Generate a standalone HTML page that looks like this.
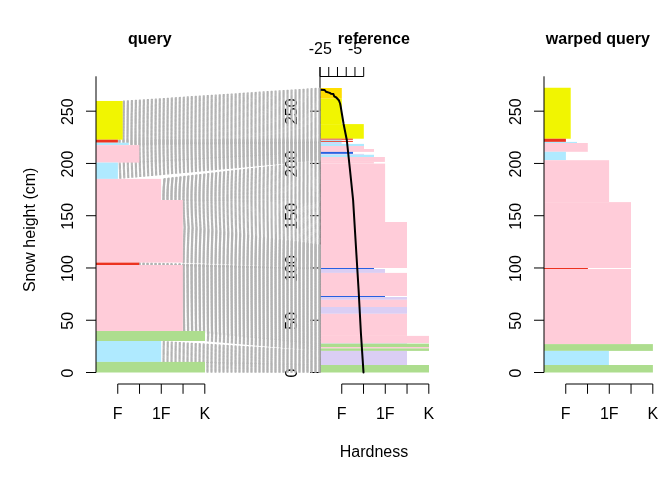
<!DOCTYPE html><html><head><meta charset="utf-8"><style>html,body{margin:0;padding:0;background:#fff;}svg{display:block}text{font-family:"Liberation Sans",Arial,sans-serif;font-size:16px;fill:#000}</style></head><body>
<svg width="672" height="480" viewBox="0 0 672 480">
<rect width="672" height="480" fill="#fff"/>
<rect x="320.0" y="88.00" width="21.80" height="10.70" fill="#ffde00"/><rect x="320.0" y="98.70" width="21.80" height="25.40" fill="#f1f501"/><rect x="320.0" y="124.10" width="43.80" height="14.60" fill="#f1f501"/><rect x="320.0" y="138.70" width="32.90" height="1.05" fill="#ec3320"/><rect x="320.0" y="139.75" width="21.60" height="1.15" fill="#afeaff"/><rect x="320.0" y="140.90" width="32.90" height="1.00" fill="#ec3320"/><rect x="320.0" y="141.90" width="21.60" height="1.10" fill="#afeaff"/><rect x="320.0" y="143.00" width="21.60" height="0.90" fill="#dacef4"/><rect x="320.0" y="143.90" width="44.00" height="2.10" fill="#afeaff"/><rect x="320.0" y="146.00" width="44.00" height="3.00" fill="#ffccd9"/><rect x="320.0" y="149.00" width="54.00" height="2.90" fill="#ffccd9"/><rect x="320.0" y="151.90" width="33.00" height="2.00" fill="#2860e0"/><rect x="320.0" y="153.90" width="44.00" height="0.85" fill="#dacef4"/><rect x="320.0" y="154.75" width="54.00" height="2.25" fill="#afeaff"/><rect x="320.0" y="157.00" width="64.90" height="4.90" fill="#ffccd9"/><rect x="320.0" y="161.90" width="53.90" height="1.70" fill="#ffccd9"/><rect x="320.0" y="163.60" width="65.10" height="58.40" fill="#ffccd9"/><rect x="320.0" y="222.00" width="87.00" height="46.00" fill="#ffccd9"/><rect x="320.0" y="268.00" width="54.00" height="1.00" fill="#2860e0"/><rect x="320.0" y="269.00" width="65.00" height="3.90" fill="#dacef4"/><rect x="320.0" y="272.90" width="87.00" height="23.10" fill="#ffccd9"/><rect x="320.0" y="296.00" width="65.00" height="1.00" fill="#2860e0"/><rect x="320.0" y="297.00" width="87.00" height="2.80" fill="#dacef4"/><rect x="320.0" y="299.80" width="87.00" height="7.20" fill="#ffccd9"/><rect x="320.0" y="307.00" width="87.00" height="6.80" fill="#dacef4"/><rect x="320.0" y="313.80" width="87.00" height="22.10" fill="#ffccd9"/><rect x="320.0" y="335.90" width="109.00" height="7.10" fill="#ffccd9"/><rect x="320.0" y="343.00" width="87.00" height="0.60" fill="#dacef4"/><rect x="320.0" y="343.60" width="109.00" height="3.40" fill="#addd8e"/><rect x="320.0" y="347.00" width="109.00" height="1.40" fill="#ffccd9"/><rect x="320.0" y="348.40" width="109.00" height="2.50" fill="#addd8e"/><rect x="320.0" y="350.90" width="87.00" height="14.10" fill="#dacef4"/><rect x="320.0" y="365.00" width="109.00" height="7.50" fill="#addd8e"/>
<line x1="320.0" y1="67.0" x2="320.0" y2="372.5" stroke="#000" stroke-width="1"/><line x1="310.0" y1="372.50" x2="320.0" y2="372.50" stroke="#000" stroke-width="1"/><text transform="translate(297.30,373.10) rotate(-90)" text-anchor="middle">0</text><line x1="310.0" y1="320.24" x2="320.0" y2="320.24" stroke="#000" stroke-width="1"/><text transform="translate(297.30,320.84) rotate(-90)" text-anchor="middle">50</text><line x1="310.0" y1="267.97" x2="320.0" y2="267.97" stroke="#000" stroke-width="1"/><text transform="translate(297.30,268.57) rotate(-90)" text-anchor="middle">100</text><line x1="310.0" y1="215.71" x2="320.0" y2="215.71" stroke="#000" stroke-width="1"/><text transform="translate(297.30,216.31) rotate(-90)" text-anchor="middle">150</text><line x1="310.0" y1="163.44" x2="320.0" y2="163.44" stroke="#000" stroke-width="1"/><text transform="translate(297.30,164.04) rotate(-90)" text-anchor="middle">200</text><line x1="310.0" y1="111.18" x2="320.0" y2="111.18" stroke="#000" stroke-width="1"/><text transform="translate(297.30,111.78) rotate(-90)" text-anchor="middle">250</text>
<line x1="320" y1="76.5" x2="363.7" y2="76.5" stroke="#000" stroke-width="1"/>
<line x1="320.00" y1="76.5" x2="320.00" y2="67" stroke="#000" stroke-width="1"/>
<line x1="328.74" y1="76.5" x2="328.74" y2="67" stroke="#000" stroke-width="1"/>
<line x1="337.48" y1="76.5" x2="337.48" y2="67" stroke="#000" stroke-width="1"/>
<line x1="346.22" y1="76.5" x2="346.22" y2="67" stroke="#000" stroke-width="1"/>
<line x1="354.96" y1="76.5" x2="354.96" y2="67" stroke="#000" stroke-width="1"/>
<line x1="363.70" y1="76.5" x2="363.70" y2="67" stroke="#000" stroke-width="1"/>
<text x="320.3" y="53.7" text-anchor="middle">-25</text>
<text x="355" y="53.7" text-anchor="middle">-5</text>
<polyline points="320.30,89.80 324.70,90.00 326.10,91.80 329.70,92.90 330.90,93.70 333.40,94.10 334.25,96.40 336.30,97.50 338.80,100.20 340.10,103.50 340.60,106.00 343.60,124.00 346.80,140.00 350.00,170.00 353.10,200.00 357.25,268.00 358.60,290.00 360.90,333.00 363.50,372.40" fill="none" stroke="#000" stroke-width="2" stroke-linejoin="round" stroke-linecap="round"/>
<g stroke="#b3b3b3" stroke-width="1.33" stroke-dasharray="1 3" stroke-linecap="round"><line x1="320" y1="88.24" x2="122.70" y2="101.32"/><line x1="320" y1="89.22" x2="122.70" y2="102.07"/><line x1="320" y1="90.20" x2="122.70" y2="102.81"/><line x1="320" y1="91.18" x2="122.70" y2="103.56"/><line x1="320" y1="92.16" x2="122.70" y2="104.30"/><line x1="320" y1="93.14" x2="122.70" y2="105.05"/><line x1="320" y1="94.12" x2="122.70" y2="105.79"/><line x1="320" y1="95.11" x2="122.70" y2="106.54"/><line x1="320" y1="96.09" x2="122.70" y2="107.28"/><line x1="320" y1="97.07" x2="122.70" y2="108.03"/><line x1="320" y1="98.05" x2="122.70" y2="108.77"/><line x1="320" y1="99.03" x2="122.70" y2="109.52"/><line x1="320" y1="100.01" x2="122.70" y2="110.26"/><line x1="320" y1="100.99" x2="122.70" y2="111.01"/><line x1="320" y1="101.97" x2="122.70" y2="111.76"/><line x1="320" y1="102.95" x2="122.70" y2="112.50"/><line x1="320" y1="103.93" x2="122.70" y2="113.25"/><line x1="320" y1="104.91" x2="122.70" y2="113.99"/><line x1="320" y1="105.89" x2="122.70" y2="114.74"/><line x1="320" y1="106.88" x2="122.70" y2="115.48"/><line x1="320" y1="107.86" x2="122.70" y2="116.23"/><line x1="320" y1="108.84" x2="122.70" y2="116.97"/><line x1="320" y1="109.82" x2="122.70" y2="117.72"/><line x1="320" y1="110.80" x2="122.70" y2="118.46"/><line x1="320" y1="111.78" x2="122.70" y2="119.21"/><line x1="320" y1="112.76" x2="122.70" y2="119.95"/><line x1="320" y1="113.74" x2="122.70" y2="120.70"/><line x1="320" y1="114.72" x2="122.70" y2="121.44"/><line x1="320" y1="115.70" x2="122.70" y2="122.19"/><line x1="320" y1="116.68" x2="122.70" y2="122.93"/><line x1="320" y1="117.66" x2="122.70" y2="123.68"/><line x1="320" y1="118.64" x2="122.70" y2="124.42"/><line x1="320" y1="119.62" x2="122.70" y2="125.17"/><line x1="320" y1="120.61" x2="122.70" y2="125.91"/><line x1="320" y1="121.59" x2="122.70" y2="126.66"/><line x1="320" y1="122.57" x2="122.70" y2="127.40"/><line x1="320" y1="123.55" x2="122.70" y2="128.15"/><line x1="320" y1="124.53" x2="122.70" y2="128.89"/><line x1="320" y1="125.51" x2="122.70" y2="129.64"/><line x1="320" y1="126.49" x2="122.70" y2="130.39"/><line x1="320" y1="127.47" x2="122.70" y2="131.13"/><line x1="320" y1="128.45" x2="122.70" y2="131.88"/><line x1="320" y1="129.43" x2="122.70" y2="132.62"/><line x1="320" y1="130.41" x2="122.70" y2="133.37"/><line x1="320" y1="131.39" x2="122.70" y2="134.11"/><line x1="320" y1="132.38" x2="122.70" y2="134.86"/><line x1="320" y1="133.36" x2="122.70" y2="135.60"/><line x1="320" y1="134.34" x2="122.70" y2="136.35"/><line x1="320" y1="135.32" x2="122.70" y2="137.09"/><line x1="320" y1="136.30" x2="122.70" y2="137.84"/><line x1="320" y1="137.28" x2="122.70" y2="138.58"/><line x1="320" y1="138.26" x2="122.70" y2="139.33"/><line x1="320" y1="139.01" x2="117.90" y2="139.95"/><line x1="320" y1="139.54" x2="117.90" y2="140.45"/><line x1="320" y1="140.06" x2="117.90" y2="140.95"/><line x1="320" y1="140.59" x2="117.90" y2="141.45"/><line x1="320" y1="141.11" x2="117.90" y2="141.95"/><line x1="320" y1="141.64" x2="117.90" y2="142.45"/><line x1="320" y1="142.01" x2="128.90" y2="142.94"/><line x1="320" y1="142.23" x2="128.90" y2="143.42"/><line x1="320" y1="142.45" x2="128.90" y2="143.90"/><line x1="320" y1="142.67" x2="128.90" y2="144.38"/><line x1="320" y1="142.89" x2="128.90" y2="144.86"/><line x1="320" y1="143.20" x2="139.30" y2="145.50"/><line x1="320" y1="143.60" x2="139.30" y2="146.29"/><line x1="320" y1="144.00" x2="139.30" y2="147.09"/><line x1="320" y1="144.40" x2="139.30" y2="147.88"/><line x1="320" y1="144.80" x2="139.30" y2="148.68"/><line x1="320" y1="145.20" x2="139.30" y2="149.47"/><line x1="320" y1="145.60" x2="139.30" y2="150.27"/><line x1="320" y1="146.00" x2="139.30" y2="151.07"/><line x1="320" y1="146.40" x2="139.30" y2="151.86"/><line x1="320" y1="146.80" x2="139.30" y2="152.66"/><line x1="320" y1="147.20" x2="139.30" y2="153.45"/><line x1="320" y1="147.60" x2="139.30" y2="154.25"/><line x1="320" y1="148.00" x2="139.30" y2="155.04"/><line x1="320" y1="148.40" x2="139.30" y2="155.84"/><line x1="320" y1="148.80" x2="139.30" y2="156.63"/><line x1="320" y1="149.20" x2="139.30" y2="157.43"/><line x1="320" y1="149.60" x2="139.30" y2="158.22"/><line x1="320" y1="150.00" x2="139.30" y2="159.02"/><line x1="320" y1="150.40" x2="139.30" y2="159.82"/><line x1="320" y1="150.80" x2="139.30" y2="160.61"/><line x1="320" y1="151.20" x2="139.30" y2="161.41"/><line x1="320" y1="151.60" x2="139.30" y2="162.20"/><line x1="320" y1="152.03" x2="117.90" y2="163.05"/><line x1="320" y1="152.50" x2="117.90" y2="163.96"/><line x1="320" y1="152.97" x2="117.90" y2="164.86"/><line x1="320" y1="153.43" x2="117.90" y2="165.77"/><line x1="320" y1="153.90" x2="117.90" y2="166.68"/><line x1="320" y1="154.37" x2="117.90" y2="167.58"/><line x1="320" y1="154.83" x2="117.90" y2="168.49"/><line x1="320" y1="155.30" x2="117.90" y2="169.39"/><line x1="320" y1="155.77" x2="117.90" y2="170.30"/><line x1="320" y1="156.23" x2="117.90" y2="171.20"/><line x1="320" y1="156.70" x2="117.90" y2="172.11"/><line x1="320" y1="157.17" x2="117.90" y2="173.01"/><line x1="320" y1="157.63" x2="117.90" y2="173.92"/><line x1="320" y1="158.10" x2="117.90" y2="174.82"/><line x1="320" y1="158.57" x2="117.90" y2="175.73"/><line x1="320" y1="159.03" x2="117.90" y2="176.64"/><line x1="320" y1="159.50" x2="117.90" y2="177.54"/><line x1="320" y1="159.97" x2="117.90" y2="178.45"/><line x1="320" y1="160.72" x2="161.10" y2="179.16"/><line x1="320" y1="161.77" x2="161.10" y2="179.69"/><line x1="320" y1="162.82" x2="161.10" y2="180.22"/><line x1="320" y1="163.87" x2="161.10" y2="180.75"/><line x1="320" y1="164.91" x2="161.10" y2="181.27"/><line x1="320" y1="165.96" x2="161.10" y2="181.80"/><line x1="320" y1="167.01" x2="161.10" y2="182.33"/><line x1="320" y1="168.06" x2="161.10" y2="182.86"/><line x1="320" y1="169.10" x2="161.10" y2="183.38"/><line x1="320" y1="170.15" x2="161.10" y2="183.91"/><line x1="320" y1="171.20" x2="161.10" y2="184.44"/><line x1="320" y1="172.25" x2="161.10" y2="184.97"/><line x1="320" y1="173.29" x2="161.10" y2="185.49"/><line x1="320" y1="174.34" x2="161.10" y2="186.02"/><line x1="320" y1="175.39" x2="161.10" y2="186.55"/><line x1="320" y1="176.44" x2="161.10" y2="187.08"/><line x1="320" y1="177.48" x2="161.10" y2="187.60"/><line x1="320" y1="178.53" x2="161.10" y2="188.13"/><line x1="320" y1="179.58" x2="161.10" y2="188.66"/><line x1="320" y1="180.63" x2="161.10" y2="189.19"/><line x1="320" y1="181.67" x2="161.10" y2="189.71"/><line x1="320" y1="182.72" x2="161.10" y2="190.24"/><line x1="320" y1="183.77" x2="161.10" y2="190.77"/><line x1="320" y1="184.82" x2="161.10" y2="191.30"/><line x1="320" y1="185.86" x2="161.10" y2="191.82"/><line x1="320" y1="186.91" x2="161.10" y2="192.35"/><line x1="320" y1="187.96" x2="161.10" y2="192.88"/><line x1="320" y1="189.01" x2="161.10" y2="193.41"/><line x1="320" y1="190.05" x2="161.10" y2="193.93"/><line x1="320" y1="191.10" x2="161.10" y2="194.46"/><line x1="320" y1="192.15" x2="161.10" y2="194.99"/><line x1="320" y1="193.20" x2="161.10" y2="195.52"/><line x1="320" y1="194.24" x2="161.10" y2="196.04"/><line x1="320" y1="195.29" x2="161.10" y2="196.57"/><line x1="320" y1="196.34" x2="161.10" y2="197.10"/><line x1="320" y1="197.39" x2="161.10" y2="197.63"/><line x1="320" y1="198.43" x2="161.10" y2="198.15"/><line x1="320" y1="199.48" x2="161.10" y2="198.68"/><line x1="320" y1="200.53" x2="161.10" y2="199.21"/><line x1="320" y1="201.58" x2="161.10" y2="199.74"/><line x1="320" y1="202.67" x2="182.80" y2="200.36"/><line x1="320" y1="203.82" x2="182.80" y2="201.08"/><line x1="320" y1="204.97" x2="182.80" y2="201.80"/><line x1="320" y1="206.12" x2="182.80" y2="202.52"/><line x1="320" y1="207.27" x2="182.80" y2="203.24"/><line x1="320" y1="208.42" x2="182.80" y2="203.96"/><line x1="320" y1="209.57" x2="182.80" y2="204.68"/><line x1="320" y1="210.72" x2="182.80" y2="205.40"/><line x1="320" y1="211.87" x2="182.80" y2="206.12"/><line x1="320" y1="213.02" x2="182.80" y2="206.84"/><line x1="320" y1="214.17" x2="182.80" y2="207.56"/><line x1="320" y1="215.32" x2="182.80" y2="208.27"/><line x1="320" y1="216.47" x2="182.80" y2="208.99"/><line x1="320" y1="217.62" x2="182.80" y2="209.71"/><line x1="320" y1="218.77" x2="182.80" y2="210.43"/><line x1="320" y1="219.92" x2="182.80" y2="211.15"/><line x1="320" y1="221.07" x2="182.80" y2="211.87"/><line x1="320" y1="222.22" x2="182.80" y2="212.59"/><line x1="320" y1="223.37" x2="182.80" y2="213.31"/><line x1="320" y1="224.52" x2="182.80" y2="214.03"/><line x1="320" y1="225.67" x2="182.80" y2="214.75"/><line x1="320" y1="226.82" x2="182.80" y2="215.47"/><line x1="320" y1="227.97" x2="182.80" y2="216.19"/><line x1="320" y1="229.12" x2="182.80" y2="216.91"/><line x1="320" y1="230.27" x2="182.80" y2="217.63"/><line x1="320" y1="231.42" x2="182.80" y2="218.35"/><line x1="320" y1="232.57" x2="182.80" y2="219.07"/><line x1="320" y1="233.72" x2="182.80" y2="219.79"/><line x1="320" y1="234.86" x2="182.80" y2="220.51"/><line x1="320" y1="236.01" x2="182.80" y2="221.23"/><line x1="320" y1="237.16" x2="182.80" y2="221.95"/><line x1="320" y1="238.31" x2="182.80" y2="222.67"/><line x1="320" y1="239.46" x2="182.80" y2="223.39"/><line x1="320" y1="240.61" x2="182.80" y2="224.10"/><line x1="320" y1="241.76" x2="182.80" y2="224.82"/><line x1="320" y1="242.91" x2="182.80" y2="225.54"/><line x1="320" y1="244.06" x2="182.80" y2="226.26"/><line x1="320" y1="244.85" x2="182.80" y2="226.98"/><line x1="320" y1="245.32" x2="182.80" y2="227.70"/><line x1="320" y1="245.78" x2="182.80" y2="228.42"/><line x1="320" y1="246.25" x2="182.80" y2="229.14"/><line x1="320" y1="246.72" x2="182.80" y2="229.86"/><line x1="320" y1="247.19" x2="182.80" y2="230.58"/><line x1="320" y1="247.66" x2="182.80" y2="231.30"/><line x1="320" y1="248.12" x2="182.80" y2="232.02"/><line x1="320" y1="248.59" x2="182.80" y2="232.74"/><line x1="320" y1="249.06" x2="182.80" y2="233.46"/><line x1="320" y1="249.53" x2="182.80" y2="234.18"/><line x1="320" y1="249.99" x2="182.80" y2="234.90"/><line x1="320" y1="250.46" x2="182.80" y2="235.62"/><line x1="320" y1="250.93" x2="182.80" y2="236.34"/><line x1="320" y1="251.40" x2="182.80" y2="237.06"/><line x1="320" y1="251.86" x2="182.80" y2="237.78"/><line x1="320" y1="252.33" x2="182.80" y2="238.50"/><line x1="320" y1="252.80" x2="182.80" y2="239.21"/><line x1="320" y1="253.27" x2="182.80" y2="239.93"/><line x1="320" y1="253.74" x2="182.80" y2="240.65"/><line x1="320" y1="254.20" x2="182.80" y2="241.37"/><line x1="320" y1="254.67" x2="182.80" y2="242.09"/><line x1="320" y1="255.14" x2="182.80" y2="242.81"/><line x1="320" y1="255.61" x2="182.80" y2="243.53"/><line x1="320" y1="256.07" x2="182.80" y2="244.25"/><line x1="320" y1="256.54" x2="182.80" y2="244.97"/><line x1="320" y1="257.01" x2="182.80" y2="245.69"/><line x1="320" y1="257.48" x2="182.80" y2="246.41"/><line x1="320" y1="257.94" x2="182.80" y2="247.13"/><line x1="320" y1="258.41" x2="182.80" y2="247.85"/><line x1="320" y1="258.88" x2="182.80" y2="248.57"/><line x1="320" y1="259.35" x2="182.80" y2="249.29"/><line x1="320" y1="259.82" x2="182.80" y2="250.01"/><line x1="320" y1="260.28" x2="182.80" y2="250.73"/><line x1="320" y1="260.75" x2="182.80" y2="251.45"/><line x1="320" y1="261.22" x2="182.80" y2="252.17"/><line x1="320" y1="261.69" x2="182.80" y2="252.89"/><line x1="320" y1="262.15" x2="182.80" y2="253.61"/><line x1="320" y1="262.62" x2="182.80" y2="254.33"/><line x1="320" y1="263.09" x2="182.80" y2="255.04"/><line x1="320" y1="263.56" x2="182.80" y2="255.76"/><line x1="320" y1="264.02" x2="182.80" y2="256.48"/><line x1="320" y1="264.49" x2="182.80" y2="257.20"/><line x1="320" y1="264.96" x2="182.80" y2="257.92"/><line x1="320" y1="265.43" x2="182.80" y2="258.64"/><line x1="320" y1="265.90" x2="182.80" y2="259.36"/><line x1="320" y1="266.36" x2="182.80" y2="260.08"/><line x1="320" y1="266.83" x2="182.80" y2="260.80"/><line x1="320" y1="267.30" x2="182.80" y2="261.52"/><line x1="320" y1="267.77" x2="182.80" y2="262.24"/><line x1="320" y1="268.10" x2="139.20" y2="262.84"/><line x1="320" y1="268.30" x2="139.20" y2="263.32"/><line x1="320" y1="268.50" x2="139.20" y2="263.80"/><line x1="320" y1="268.70" x2="139.20" y2="264.28"/><line x1="320" y1="268.90" x2="139.20" y2="264.76"/><line x1="320" y1="269.30" x2="182.80" y2="265.26"/><line x1="320" y1="269.89" x2="182.80" y2="265.79"/><line x1="320" y1="270.49" x2="182.80" y2="266.31"/><line x1="320" y1="271.09" x2="182.80" y2="266.83"/><line x1="320" y1="271.68" x2="182.80" y2="267.36"/><line x1="320" y1="272.28" x2="182.80" y2="267.88"/><line x1="320" y1="272.87" x2="182.80" y2="268.40"/><line x1="320" y1="273.47" x2="182.80" y2="268.93"/><line x1="320" y1="274.07" x2="182.80" y2="269.45"/><line x1="320" y1="274.66" x2="182.80" y2="269.98"/><line x1="320" y1="275.26" x2="182.80" y2="270.50"/><line x1="320" y1="275.85" x2="182.80" y2="271.02"/><line x1="320" y1="276.45" x2="182.80" y2="271.55"/><line x1="320" y1="277.05" x2="182.80" y2="272.07"/><line x1="320" y1="277.64" x2="182.80" y2="272.60"/><line x1="320" y1="278.24" x2="182.80" y2="273.12"/><line x1="320" y1="278.83" x2="182.80" y2="273.64"/><line x1="320" y1="279.43" x2="182.80" y2="274.17"/><line x1="320" y1="280.03" x2="182.80" y2="274.69"/><line x1="320" y1="280.62" x2="182.80" y2="275.21"/><line x1="320" y1="281.22" x2="182.80" y2="275.74"/><line x1="320" y1="281.81" x2="182.80" y2="276.26"/><line x1="320" y1="282.41" x2="182.80" y2="276.79"/><line x1="320" y1="283.01" x2="182.80" y2="277.31"/><line x1="320" y1="283.60" x2="182.80" y2="277.83"/><line x1="320" y1="284.20" x2="182.80" y2="278.36"/><line x1="320" y1="284.79" x2="182.80" y2="278.88"/><line x1="320" y1="285.39" x2="182.80" y2="279.40"/><line x1="320" y1="285.99" x2="182.80" y2="279.93"/><line x1="320" y1="286.58" x2="182.80" y2="280.45"/><line x1="320" y1="287.18" x2="182.80" y2="280.98"/><line x1="320" y1="287.77" x2="182.80" y2="281.50"/><line x1="320" y1="288.37" x2="182.80" y2="282.02"/><line x1="320" y1="288.97" x2="182.80" y2="282.55"/><line x1="320" y1="289.56" x2="182.80" y2="283.07"/><line x1="320" y1="290.16" x2="182.80" y2="283.60"/><line x1="320" y1="290.76" x2="182.80" y2="284.12"/><line x1="320" y1="291.35" x2="182.80" y2="284.64"/><line x1="320" y1="291.95" x2="182.80" y2="285.17"/><line x1="320" y1="292.54" x2="182.80" y2="285.69"/><line x1="320" y1="293.14" x2="182.80" y2="286.21"/><line x1="320" y1="293.74" x2="182.80" y2="286.74"/><line x1="320" y1="294.33" x2="182.80" y2="287.26"/><line x1="320" y1="294.93" x2="182.80" y2="287.79"/><line x1="320" y1="295.52" x2="182.80" y2="288.31"/><line x1="320" y1="296.12" x2="182.80" y2="288.83"/><line x1="320" y1="296.72" x2="182.80" y2="289.36"/><line x1="320" y1="297.31" x2="182.80" y2="289.88"/><line x1="320" y1="297.91" x2="182.80" y2="290.40"/><line x1="320" y1="298.50" x2="182.80" y2="290.93"/><line x1="320" y1="299.10" x2="182.80" y2="291.45"/><line x1="320" y1="299.70" x2="182.80" y2="291.98"/><line x1="320" y1="300.29" x2="182.80" y2="292.50"/><line x1="320" y1="300.89" x2="182.80" y2="293.02"/><line x1="320" y1="301.48" x2="182.80" y2="293.55"/><line x1="320" y1="302.08" x2="182.80" y2="294.07"/><line x1="320" y1="302.68" x2="182.80" y2="294.60"/><line x1="320" y1="303.27" x2="182.80" y2="295.12"/><line x1="320" y1="303.87" x2="182.80" y2="295.64"/><line x1="320" y1="304.46" x2="182.80" y2="296.17"/><line x1="320" y1="305.06" x2="182.80" y2="296.69"/><line x1="320" y1="305.66" x2="182.80" y2="297.21"/><line x1="320" y1="306.25" x2="182.80" y2="297.74"/><line x1="320" y1="306.85" x2="182.80" y2="298.26"/><line x1="320" y1="307.44" x2="182.80" y2="298.79"/><line x1="320" y1="308.04" x2="182.80" y2="299.31"/><line x1="320" y1="308.64" x2="182.80" y2="299.83"/><line x1="320" y1="309.23" x2="182.80" y2="300.36"/><line x1="320" y1="309.83" x2="182.80" y2="300.88"/><line x1="320" y1="310.42" x2="182.80" y2="301.40"/><line x1="320" y1="311.02" x2="182.80" y2="301.93"/><line x1="320" y1="311.62" x2="182.80" y2="302.45"/><line x1="320" y1="312.21" x2="182.80" y2="302.98"/><line x1="320" y1="312.81" x2="182.80" y2="303.50"/><line x1="320" y1="313.40" x2="182.80" y2="304.02"/><line x1="320" y1="314.00" x2="182.80" y2="304.55"/><line x1="320" y1="314.60" x2="182.80" y2="305.07"/><line x1="320" y1="315.19" x2="182.80" y2="305.60"/><line x1="320" y1="315.79" x2="182.80" y2="306.12"/><line x1="320" y1="316.38" x2="182.80" y2="306.64"/><line x1="320" y1="316.98" x2="182.80" y2="307.17"/><line x1="320" y1="317.58" x2="182.80" y2="307.69"/><line x1="320" y1="318.17" x2="182.80" y2="308.21"/><line x1="320" y1="318.77" x2="182.80" y2="308.74"/><line x1="320" y1="319.36" x2="182.80" y2="309.26"/><line x1="320" y1="319.96" x2="182.80" y2="309.79"/><line x1="320" y1="320.56" x2="182.80" y2="310.31"/><line x1="320" y1="321.15" x2="182.80" y2="310.83"/><line x1="320" y1="321.75" x2="182.80" y2="311.36"/><line x1="320" y1="322.34" x2="182.80" y2="311.88"/><line x1="320" y1="322.94" x2="182.80" y2="312.40"/><line x1="320" y1="323.54" x2="182.80" y2="312.93"/><line x1="320" y1="324.13" x2="182.80" y2="313.45"/><line x1="320" y1="324.73" x2="182.80" y2="313.98"/><line x1="320" y1="325.33" x2="182.80" y2="314.50"/><line x1="320" y1="325.92" x2="182.80" y2="315.02"/><line x1="320" y1="326.52" x2="182.80" y2="315.55"/><line x1="320" y1="327.11" x2="182.80" y2="316.07"/><line x1="320" y1="327.71" x2="182.80" y2="316.60"/><line x1="320" y1="328.31" x2="182.80" y2="317.12"/><line x1="320" y1="328.90" x2="182.80" y2="317.64"/><line x1="320" y1="329.50" x2="182.80" y2="318.17"/><line x1="320" y1="330.09" x2="182.80" y2="318.69"/><line x1="320" y1="330.69" x2="182.80" y2="319.21"/><line x1="320" y1="331.29" x2="182.80" y2="319.74"/><line x1="320" y1="331.88" x2="182.80" y2="320.26"/><line x1="320" y1="332.48" x2="182.80" y2="320.79"/><line x1="320" y1="333.07" x2="182.80" y2="321.31"/><line x1="320" y1="333.67" x2="182.80" y2="321.83"/><line x1="320" y1="334.27" x2="182.80" y2="322.36"/><line x1="320" y1="334.86" x2="182.80" y2="322.88"/><line x1="320" y1="335.46" x2="182.80" y2="323.40"/><line x1="320" y1="336.05" x2="182.80" y2="323.93"/><line x1="320" y1="336.65" x2="182.80" y2="324.45"/><line x1="320" y1="337.25" x2="182.80" y2="324.98"/><line x1="320" y1="337.84" x2="182.80" y2="325.50"/><line x1="320" y1="338.44" x2="182.80" y2="326.02"/><line x1="320" y1="339.03" x2="182.80" y2="326.55"/><line x1="320" y1="339.63" x2="182.80" y2="327.07"/><line x1="320" y1="340.23" x2="182.80" y2="327.60"/><line x1="320" y1="340.82" x2="182.80" y2="328.12"/><line x1="320" y1="341.42" x2="182.80" y2="328.64"/><line x1="320" y1="342.01" x2="182.80" y2="329.17"/><line x1="320" y1="342.61" x2="182.80" y2="329.69"/><line x1="320" y1="343.21" x2="182.80" y2="330.21"/><line x1="320" y1="343.80" x2="182.80" y2="330.74"/><line x1="320" y1="344.38" x2="205.00" y2="331.42"/><line x1="320" y1="344.95" x2="205.00" y2="332.25"/><line x1="320" y1="345.52" x2="205.00" y2="333.08"/><line x1="320" y1="346.08" x2="205.00" y2="333.92"/><line x1="320" y1="346.65" x2="205.00" y2="334.75"/><line x1="320" y1="347.22" x2="205.00" y2="335.58"/><line x1="320" y1="347.78" x2="205.00" y2="336.42"/><line x1="320" y1="348.35" x2="205.00" y2="337.25"/><line x1="320" y1="348.92" x2="205.00" y2="338.08"/><line x1="320" y1="349.48" x2="205.00" y2="338.92"/><line x1="320" y1="350.05" x2="205.00" y2="339.75"/><line x1="320" y1="350.62" x2="205.00" y2="340.58"/><line x1="320" y1="351.21" x2="161.20" y2="341.45"/><line x1="320" y1="351.82" x2="161.20" y2="342.36"/><line x1="320" y1="352.43" x2="161.20" y2="343.27"/><line x1="320" y1="353.05" x2="161.20" y2="344.18"/><line x1="320" y1="353.66" x2="161.20" y2="345.09"/><line x1="320" y1="354.27" x2="161.20" y2="346.00"/><line x1="320" y1="354.88" x2="161.20" y2="346.91"/><line x1="320" y1="355.50" x2="161.20" y2="347.82"/><line x1="320" y1="356.11" x2="161.20" y2="348.72"/><line x1="320" y1="356.72" x2="161.20" y2="349.63"/><line x1="320" y1="357.34" x2="161.20" y2="350.54"/><line x1="320" y1="357.95" x2="161.20" y2="351.45"/><line x1="320" y1="358.56" x2="161.20" y2="352.36"/><line x1="320" y1="359.18" x2="161.20" y2="353.27"/><line x1="320" y1="359.79" x2="161.20" y2="354.18"/><line x1="320" y1="360.40" x2="161.20" y2="355.08"/><line x1="320" y1="361.02" x2="161.20" y2="355.99"/><line x1="320" y1="361.63" x2="161.20" y2="356.90"/><line x1="320" y1="362.24" x2="161.20" y2="357.81"/><line x1="320" y1="362.85" x2="161.20" y2="358.72"/><line x1="320" y1="363.47" x2="161.20" y2="359.63"/><line x1="320" y1="364.08" x2="161.20" y2="360.54"/><line x1="320" y1="364.69" x2="161.20" y2="361.45"/><line x1="320" y1="365.29" x2="205.00" y2="362.31"/><line x1="320" y1="365.87" x2="205.00" y2="363.12"/><line x1="320" y1="366.44" x2="205.00" y2="363.94"/><line x1="320" y1="367.02" x2="205.00" y2="364.75"/><line x1="320" y1="367.60" x2="205.00" y2="365.57"/><line x1="320" y1="368.17" x2="205.00" y2="366.38"/><line x1="320" y1="368.75" x2="205.00" y2="367.20"/><line x1="320" y1="369.33" x2="205.00" y2="368.02"/><line x1="320" y1="369.90" x2="205.00" y2="368.83"/><line x1="320" y1="370.48" x2="205.00" y2="369.65"/><line x1="320" y1="371.06" x2="205.00" y2="370.46"/><line x1="320" y1="371.63" x2="205.00" y2="371.28"/><line x1="320" y1="372.21" x2="205.00" y2="372.09"/></g>
<rect x="96.0" y="100.95" width="26.70" height="38.75" fill="#f1f501"/><rect x="96.0" y="139.70" width="21.90" height="3.00" fill="#ec3320"/><rect x="96.0" y="142.70" width="32.90" height="2.40" fill="#afeaff"/><rect x="96.0" y="145.10" width="43.30" height="17.50" fill="#ffccd9"/><rect x="96.0" y="162.60" width="21.90" height="16.30" fill="#afeaff"/><rect x="96.0" y="178.90" width="65.10" height="21.10" fill="#ffccd9"/><rect x="96.0" y="200.00" width="86.80" height="62.60" fill="#ffccd9"/><rect x="96.0" y="262.60" width="43.20" height="2.40" fill="#ec3320"/><rect x="96.0" y="265.00" width="86.80" height="66.00" fill="#ffccd9"/><rect x="96.0" y="331.00" width="109.00" height="10.00" fill="#addd8e"/><rect x="96.0" y="341.00" width="65.20" height="20.90" fill="#afeaff"/><rect x="96.0" y="361.90" width="109.00" height="10.60" fill="#addd8e"/>
<line x1="96.0" y1="76.3" x2="96.0" y2="372.5" stroke="#000" stroke-width="1"/><line x1="86.0" y1="372.50" x2="96.0" y2="372.50" stroke="#000" stroke-width="1"/><text transform="translate(73.30,373.10) rotate(-90)" text-anchor="middle">0</text><line x1="86.0" y1="320.24" x2="96.0" y2="320.24" stroke="#000" stroke-width="1"/><text transform="translate(73.30,320.84) rotate(-90)" text-anchor="middle">50</text><line x1="86.0" y1="267.97" x2="96.0" y2="267.97" stroke="#000" stroke-width="1"/><text transform="translate(73.30,268.57) rotate(-90)" text-anchor="middle">100</text><line x1="86.0" y1="215.71" x2="96.0" y2="215.71" stroke="#000" stroke-width="1"/><text transform="translate(73.30,216.31) rotate(-90)" text-anchor="middle">150</text><line x1="86.0" y1="163.44" x2="96.0" y2="163.44" stroke="#000" stroke-width="1"/><text transform="translate(73.30,164.04) rotate(-90)" text-anchor="middle">200</text><line x1="86.0" y1="111.18" x2="96.0" y2="111.18" stroke="#000" stroke-width="1"/><text transform="translate(73.30,111.78) rotate(-90)" text-anchor="middle">250</text>
<line x1="117.76" y1="384.0" x2="204.80" y2="384.0" stroke="#000" stroke-width="1"/><line x1="117.76" y1="384.0" x2="117.76" y2="393.80" stroke="#000" stroke-width="1"/><line x1="139.52" y1="384.0" x2="139.52" y2="393.80" stroke="#000" stroke-width="1"/><line x1="161.28" y1="384.0" x2="161.28" y2="393.80" stroke="#000" stroke-width="1"/><line x1="183.04" y1="384.0" x2="183.04" y2="393.80" stroke="#000" stroke-width="1"/><line x1="204.80" y1="384.0" x2="204.80" y2="393.80" stroke="#000" stroke-width="1"/><text x="117.76" y="418.9" text-anchor="middle">F</text><text x="161.28" y="418.9" text-anchor="middle">1F</text><text x="204.80" y="418.9" text-anchor="middle">K</text>
<line x1="341.76" y1="384.0" x2="428.80" y2="384.0" stroke="#000" stroke-width="1"/><line x1="341.76" y1="384.0" x2="341.76" y2="393.80" stroke="#000" stroke-width="1"/><line x1="363.52" y1="384.0" x2="363.52" y2="393.80" stroke="#000" stroke-width="1"/><line x1="385.28" y1="384.0" x2="385.28" y2="393.80" stroke="#000" stroke-width="1"/><line x1="407.04" y1="384.0" x2="407.04" y2="393.80" stroke="#000" stroke-width="1"/><line x1="428.80" y1="384.0" x2="428.80" y2="393.80" stroke="#000" stroke-width="1"/><text x="341.76" y="418.9" text-anchor="middle">F</text><text x="385.28" y="418.9" text-anchor="middle">1F</text><text x="428.80" y="418.9" text-anchor="middle">K</text>
<rect x="544.0" y="87.75" width="26.70" height="51.00" fill="#f1f501"/><rect x="544.0" y="138.75" width="21.90" height="3.15" fill="#ec3320"/><rect x="544.0" y="141.90" width="33.00" height="1.10" fill="#afeaff"/><rect x="544.0" y="143.00" width="43.80" height="8.80" fill="#ffccd9"/><rect x="544.0" y="151.80" width="21.90" height="8.40" fill="#afeaff"/><rect x="544.0" y="160.20" width="65.10" height="41.90" fill="#ffccd9"/><rect x="544.0" y="202.10" width="87.00" height="65.90" fill="#ffccd9"/><rect x="544.0" y="268.00" width="43.90" height="1.00" fill="#ec3320"/><rect x="544.0" y="269.00" width="87.00" height="75.10" fill="#ffccd9"/><rect x="544.0" y="344.10" width="108.90" height="6.80" fill="#addd8e"/><rect x="544.0" y="350.90" width="64.90" height="14.10" fill="#afeaff"/><rect x="544.0" y="365.00" width="108.90" height="7.50" fill="#addd8e"/>
<line x1="544.0" y1="76.3" x2="544.0" y2="372.5" stroke="#000" stroke-width="1"/><line x1="534.0" y1="372.50" x2="544.0" y2="372.50" stroke="#000" stroke-width="1"/><text transform="translate(521.30,373.10) rotate(-90)" text-anchor="middle">0</text><line x1="534.0" y1="320.24" x2="544.0" y2="320.24" stroke="#000" stroke-width="1"/><text transform="translate(521.30,320.84) rotate(-90)" text-anchor="middle">50</text><line x1="534.0" y1="267.97" x2="544.0" y2="267.97" stroke="#000" stroke-width="1"/><text transform="translate(521.30,268.57) rotate(-90)" text-anchor="middle">100</text><line x1="534.0" y1="215.71" x2="544.0" y2="215.71" stroke="#000" stroke-width="1"/><text transform="translate(521.30,216.31) rotate(-90)" text-anchor="middle">150</text><line x1="534.0" y1="163.44" x2="544.0" y2="163.44" stroke="#000" stroke-width="1"/><text transform="translate(521.30,164.04) rotate(-90)" text-anchor="middle">200</text><line x1="534.0" y1="111.18" x2="544.0" y2="111.18" stroke="#000" stroke-width="1"/><text transform="translate(521.30,111.78) rotate(-90)" text-anchor="middle">250</text>
<line x1="565.76" y1="384.0" x2="652.80" y2="384.0" stroke="#000" stroke-width="1"/><line x1="565.76" y1="384.0" x2="565.76" y2="393.80" stroke="#000" stroke-width="1"/><line x1="587.52" y1="384.0" x2="587.52" y2="393.80" stroke="#000" stroke-width="1"/><line x1="609.28" y1="384.0" x2="609.28" y2="393.80" stroke="#000" stroke-width="1"/><line x1="631.04" y1="384.0" x2="631.04" y2="393.80" stroke="#000" stroke-width="1"/><line x1="652.80" y1="384.0" x2="652.80" y2="393.80" stroke="#000" stroke-width="1"/><text x="565.76" y="418.9" text-anchor="middle">F</text><text x="609.28" y="418.9" text-anchor="middle">1F</text><text x="652.80" y="418.9" text-anchor="middle">K</text>
<text x="149.8" y="44.3" text-anchor="middle" font-weight="bold">query</text>
<text x="373.8" y="44.3" text-anchor="middle" font-weight="bold">reference</text>
<text x="597.8" y="44.3" text-anchor="middle" font-weight="bold">warped query</text>
<text x="374.0" y="457" text-anchor="middle">Hardness</text>
<text transform="translate(35,229.85) rotate(-90)" text-anchor="middle">Snow height (cm)</text>
</svg></body></html>
